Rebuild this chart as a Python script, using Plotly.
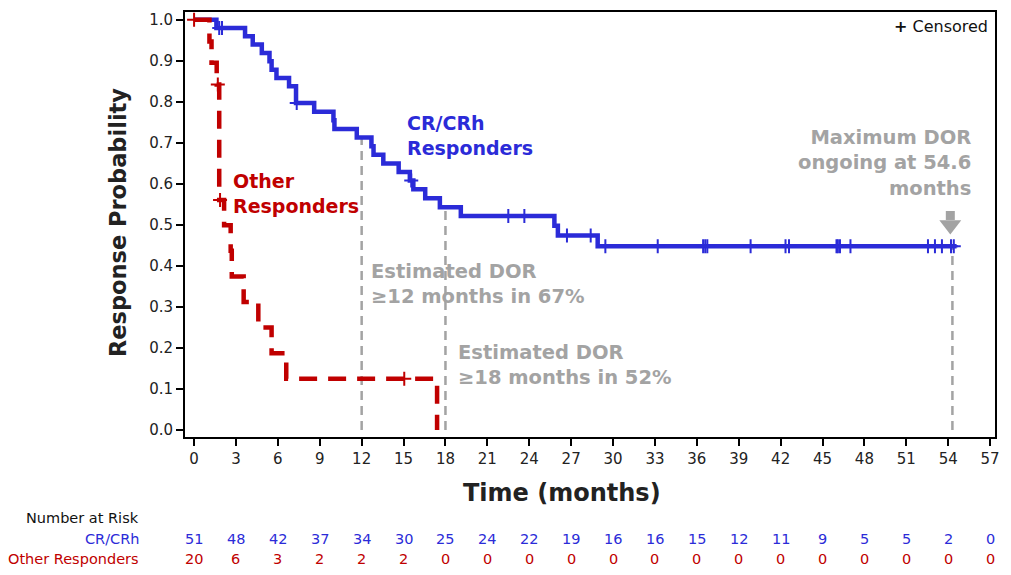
import plotly.graph_objects as go

# ---------------- data ----------------
# CR/CRh responders: Kaplan-Meier step points (time in months, response probability)
cr_t = [0, 1.6, 3.65, 4.2, 4.85, 5.4, 5.55, 5.9, 6.8, 7.3, 8.6, 9.98, 10.05, 11.65,
        12.7, 12.85, 13.55, 14.65, 15.45, 15.7, 16.55, 17.6, 19.1, 25.8, 26.05, 28.9, 54.6]
cr_s = [1.0, 0.980, 0.960, 0.940, 0.919, 0.899, 0.878, 0.858, 0.838, 0.797, 0.776, 0.755,
        0.734, 0.713, 0.692, 0.671, 0.650, 0.629, 0.608, 0.587, 0.565, 0.543, 0.522,
        0.498, 0.474, 0.448, 0.448]
cr_cens_t = [1.8, 2.0, 7.35, 15.55, 22.5, 23.65, 26.7, 28.4, 29.45, 33.2, 36.45, 36.6,
             36.75, 39.85, 42.35, 42.6, 46.0, 46.1, 46.25, 47.0, 52.55, 53.05, 53.55, 54.2, 54.4]
cr_cens_s = [0.980, 0.980, 0.797, 0.608, 0.522, 0.522, 0.474, 0.474, 0.448, 0.448, 0.448,
             0.448, 0.448, 0.448, 0.448, 0.448, 0.448, 0.448, 0.448, 0.448, 0.448, 0.448,
             0.448, 0.448, 0.448]

# Other responders
ot_t = [0, 1.1, 1.25, 1.62, 1.8, 2.15, 2.62, 2.7, 3.55, 4.6, 5.55, 6.6, 17.4]
ot_s = [1.0, 0.947, 0.895, 0.842, 0.561, 0.499, 0.437, 0.374, 0.312, 0.250, 0.187, 0.125, 0.0]
ot_cens_t = [0.0, 1.7, 1.86, 15.05]
ot_cens_s = [1.0, 0.842, 0.561, 0.125]

# reference (estimated DOR) lines
ref_months = [12, 18, 54.3]
ref_tops = [0.713, 0.543, 0.448]

# number at risk
risk_times = list(range(0, 58, 3))
risk_cr = [51, 48, 42, 37, 34, 30, 25, 24, 22, 19, 16, 16, 15, 12, 11, 9, 5, 5, 2, 0]
risk_ot = [20, 6, 3, 2, 2, 2, 0, 0, 0, 0, 0, 0, 0, 0, 0, 0, 0, 0, 0, 0]

x_ticks = list(range(0, 58, 3))
y_ticks = [i / 10 for i in range(11)]

# ---------------- styling ----------------
BLUE = "#2B2BD8"
RED = "#C00000"
GREY = "#A3A3A3"
TXT = "#222222"
FONT = "DejaVu Sans"

W, H = 1011, 575
OFF = 8  # page body margin of the browser
ML, MR, MT, MB = 185 - OFF, 16 + OFF, 10 - OFF, 138 + OFF
PH = H - MT - MB
PW = W - ML - MR


def py(px):
    """reference pixel row -> paper y"""
    return (H - MB - (px - OFF)) / PH


def pxx(px):
    """reference pixel column -> paper x"""
    return (px - OFF - ML) / PW


fig = go.Figure()

# grey reference lines
for xm, top in zip(ref_months, ref_tops):
    fig.add_trace(go.Scatter(x=[xm, xm], y=[0, top], mode="lines",
                             line=dict(color=GREY, width=2.5, dash="9px,6px"),
                             hoverinfo="skip", showlegend=False))

# blue curve
fig.add_trace(go.Scatter(x=cr_t, y=cr_s, mode="lines", line_shape="hv",
                         line=dict(color=BLUE, width=4.5), showlegend=False))
fig.add_trace(go.Scatter(x=cr_cens_t, y=cr_cens_s, mode="markers",
                         marker=dict(symbol="cross-thin", size=10, color=BLUE,
                                     line=dict(color=BLUE, width=2)), showlegend=False))
# red curve
fig.add_trace(go.Scatter(x=ot_t, y=ot_s, mode="lines", line_shape="hv",
                         line=dict(color=RED, width=4.5, dash="18px,11px"), showlegend=False))
fig.add_trace(go.Scatter(x=ot_cens_t, y=ot_cens_s, mode="markers",
                         marker=dict(symbol="cross-thin", size=10, color=RED,
                                     line=dict(color=RED, width=2)), showlegend=False))

# grey arrow for maximum DOR
fig.add_trace(go.Scatter(x=[54.15], y=[0.523], mode="markers",
                         marker=dict(symbol="square", size=9, color=GREY), showlegend=False))
fig.add_trace(go.Scatter(x=[54.15], y=[0.500], mode="markers",
                         marker=dict(symbol="triangle-down", size=19, color=GREY), showlegend=False))

ann = []
# series labels
ann.append(dict(x=15.1, y=0.655, xref="x", yref="y", xanchor="left", yanchor="bottom",
                text="<b>CR/CRh<br>Responders</b>", showarrow=False, align="left",
                font=dict(family=FONT, size=19, color=BLUE)))
ann.append(dict(x=2.65, y=0.515, xref="x", yref="y", xanchor="left", yanchor="bottom",
                text="<b>Other<br>Responders</b>", showarrow=False, align="left",
                font=dict(family=FONT, size=19, color=RED)))
ann.append(dict(x=12.55, y=0.292, xref="x", yref="y", xanchor="left", yanchor="bottom",
                text="<b>Estimated DOR<br>≥12 months in 67%</b>", showarrow=False, align="left",
                font=dict(family=FONT, size=19.5, color=GREY)))
ann.append(dict(x=18.75, y=0.094, xref="x", yref="y", xanchor="left", yanchor="bottom",
                text="<b>Estimated DOR<br>≥18 months in 52%</b>", showarrow=False, align="left",
                font=dict(family=FONT, size=19.5, color=GREY)))
ann.append(dict(x=55.75, y=0.555, xref="x", yref="y", xanchor="right", yanchor="bottom",
                text="<b>Maximum DOR<br>ongoing at 54.6<br>months</b>", showarrow=False, align="right",
                font=dict(family=FONT, size=19.5, color=GREY)))
# censored legend
ann.append(dict(x=pxx(990), y=py(25), xref="paper", yref="paper", xanchor="right", yanchor="middle",
                text="<b>+</b> Censored", showarrow=False,
                font=dict(family=FONT, size=16, color="#111111")))
# axis titles
ann.append(dict(x=pxx(562), y=py(493), xref="paper", yref="paper", xanchor="center", yanchor="middle",
                text="<b>Time (months)</b>", showarrow=False,
                font=dict(family=FONT, size=24, color=TXT)))
ann.append(dict(x=pxx(118), y=py(222), xref="paper", yref="paper", xanchor="center", yanchor="middle",
                text="<b>Response Probability</b>", showarrow=False, textangle=-90,
                font=dict(family=FONT, size=22.5, color=TXT)))

# number at risk table
TS = 14.5
ann.append(dict(x=pxx(141), y=py(518), xref="paper", yref="paper", xanchor="right", yanchor="middle",
                text="Number at Risk", showarrow=False, font=dict(family=FONT, size=TS, color="#111111")))
ann.append(dict(x=pxx(141), y=py(539), xref="paper", yref="paper", xanchor="right", yanchor="middle",
                text="CR/CRh", showarrow=False, font=dict(family=FONT, size=TS, color=BLUE)))
ann.append(dict(x=pxx(141), y=py(560), xref="paper", yref="paper", xanchor="right", yanchor="middle",
                text="Other Responders", showarrow=False, font=dict(family=FONT, size=TS, color=RED)))
for t, a, b in zip(risk_times, risk_cr, risk_ot):
    ann.append(dict(x=t, y=py(539), xref="x", yref="paper", xanchor="center", yanchor="middle",
                    text=str(a), showarrow=False, font=dict(family=FONT, size=TS, color=BLUE)))
    ann.append(dict(x=t, y=py(560), xref="x", yref="paper", xanchor="center", yanchor="middle",
                    text=str(b), showarrow=False, font=dict(family=FONT, size=TS, color=RED)))

fig.update_layout(
    width=W, height=H,
    margin=dict(l=ML, r=MR, t=MT, b=MB, pad=0),
    paper_bgcolor="white", plot_bgcolor="white",
    font=dict(family=FONT, size=15, color=TXT),
    showlegend=False,
    annotations=ann,
    xaxis=dict(range=[-0.65, 57.35], tickvals=x_ticks, ticktext=[str(v) for v in x_ticks],
               showgrid=False, zeroline=False, showline=True, linecolor="black", linewidth=2,
               mirror=True, ticks="outside", ticklen=7, tickwidth=2, tickcolor="black",
               tickfont=dict(family=FONT, size=15, color=TXT)),
    yaxis=dict(range=[-0.017, 1.019], tickvals=y_ticks, ticktext=[f"{v:.1f}" for v in y_ticks],
               showgrid=False, zeroline=False, showline=True, linecolor="black", linewidth=2,
               mirror=True, ticks="outside", ticklen=7, tickwidth=2, tickcolor="black",
               tickfont=dict(family=FONT, size=15, color=TXT)),
)

fig.write_html("out.html")
